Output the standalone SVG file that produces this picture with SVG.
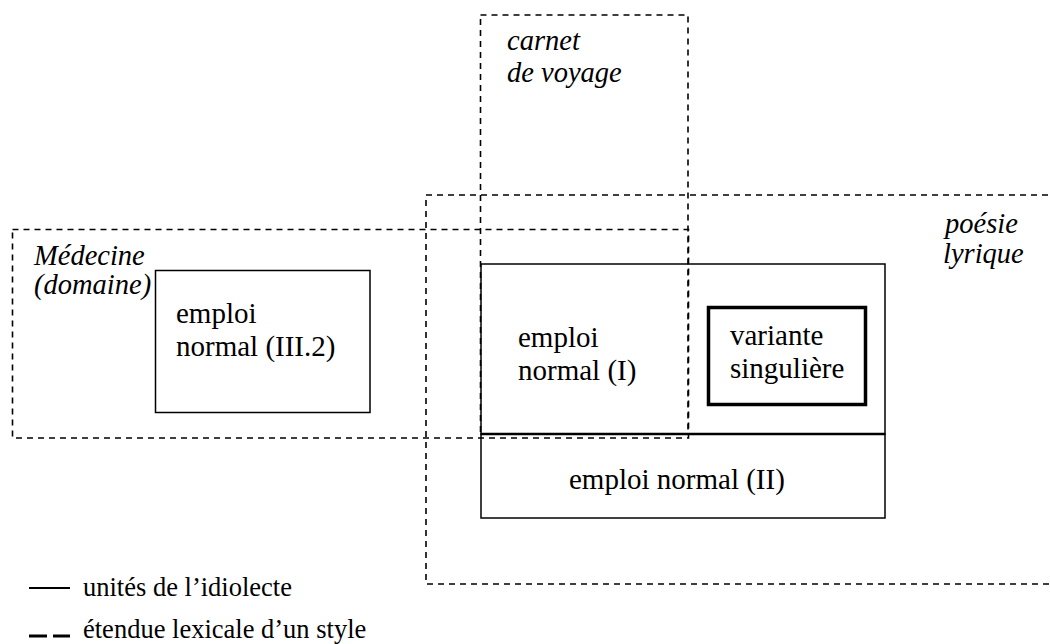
<svg xmlns="http://www.w3.org/2000/svg" width="1050" height="644" viewBox="0 0 1050 644">
<style>
  .dash { fill: none; stroke: #000; stroke-width: 1.6; stroke-dasharray: 6 5; }
  .solid { fill: none; stroke: #000; stroke-width: 1.5; }
  .thick { fill: none; stroke: #000; stroke-width: 3.5; }
  text { font-family: 'Liberation Serif', 'Times New Roman', 'DejaVu Serif', serif; fill: #000; }
  .t { font-size: 29px; }
  .it { font-style: italic; font-size: 28.5px; }
  .leg { font-size: 26.5px; }
</style>
<rect width="1050" height="644" fill="#fff"/>
<g id="poesie-lyrique">
  <rect class="dash" x="426" y="195" width="700" height="389"/>
  <text class="t it" x="945" y="233">poésie</text>
  <text class="t it" x="943" y="263">lyrique</text>
</g>
<g id="medecine">
  <rect class="dash" x="12.5" y="229.5" width="676" height="208.5"/>
  <text class="t it" x="34" y="265">Médecine</text>
  <text class="t it" x="34" y="294">(domaine)</text>
</g>
<g id="carnet-de-voyage">
  <rect class="dash" x="480.5" y="15" width="207.5" height="419"/>
  <text class="t it" x="507" y="50">carnet</text>
  <text class="t it" x="507" y="82">de voyage</text>
</g>
<g id="emploi-III2">
  <rect class="solid" x="155.5" y="270.5" width="214.5" height="142"/>
  <text class="t" x="176" y="323">emploi</text>
  <text class="t" x="176" y="356">normal (III.2)</text>
</g>
<g id="emploi-I">
  <rect class="solid" x="481" y="264" width="404" height="170"/>
  <text class="t" x="518" y="347">emploi</text>
  <text class="t" x="518" y="380">normal (I)</text>
</g>
<g id="emploi-II">
  <rect class="solid" x="481" y="434" width="404" height="84"/>
  <line x1="481" y1="434" x2="885" y2="434" stroke="#000" stroke-width="2.5"/>
  <text class="t" x="569" y="489">emploi normal (II)</text>
</g>
<g id="variante-singuliere">
  <rect class="thick" x="708.5" y="307.5" width="157" height="97"/>
  <text class="t" x="730" y="345">variante</text>
  <text class="t" x="730" y="378">singulière</text>
</g>
<g id="connectors"></g>
<g id="legend">
  <line x1="29" y1="588" x2="70" y2="588" stroke="#000" stroke-width="1.8"/>
  <text class="leg" x="83" y="596">unités de l’idiolecte</text>
  <line x1="29" y1="636" x2="70" y2="636" stroke="#000" stroke-width="3" stroke-dasharray="18 6"/>
  <text class="leg" x="83" y="638">étendue lexicale d’un style</text>
</g>
</svg>
